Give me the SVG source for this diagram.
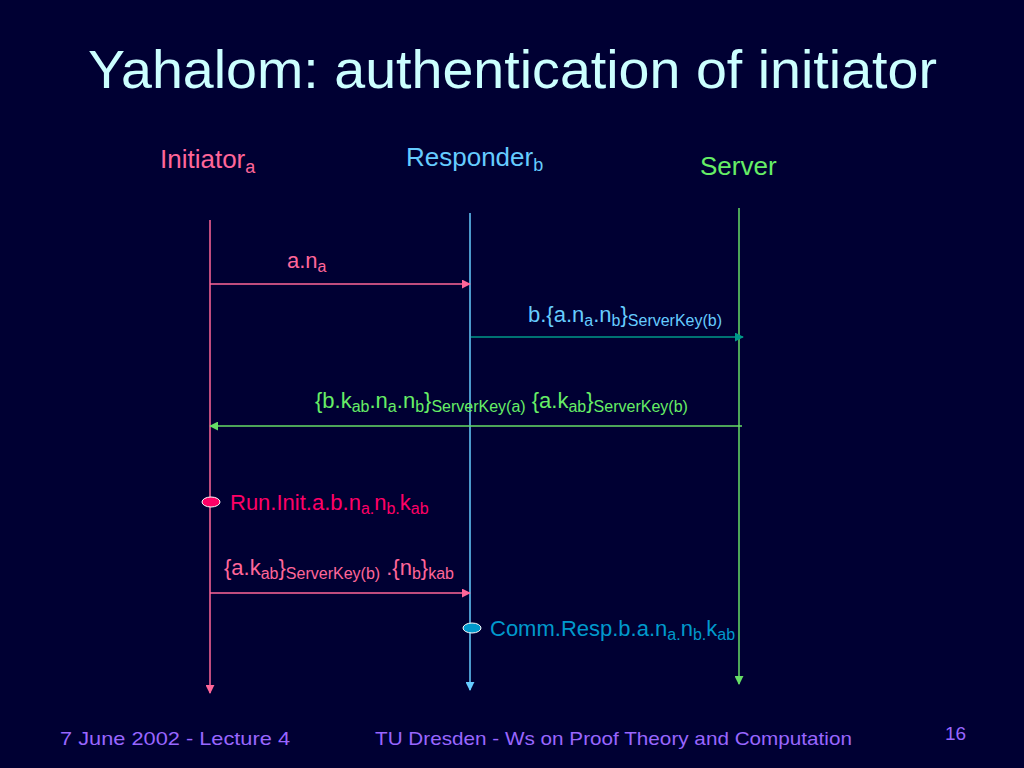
<svg xmlns="http://www.w3.org/2000/svg" width="1024" height="768" viewBox="0 0 1024 768">
<defs>
<style>
text{font-family:"Liberation Sans","DejaVu Sans",Arial,sans-serif}
.title{fill:#ccffff;font-size:54px}
.head{font-size:26px}
.lbl{font-size:22px}
.sub{font-size:16px}
.foot{fill:#9966ff;font-size:19px}
.life{stroke-width:1.5;fill:none}
.msg{stroke-width:1.5;fill:none}
</style>
<marker id="aPink" viewBox="0 0 10 10" refX="9" refY="5" markerWidth="9" markerHeight="9" orient="auto" markerUnits="userSpaceOnUse"><path d="M0,0 L10,5 L0,10 z" fill="#ff6699"/></marker>
<marker id="aBlue" viewBox="0 0 10 10" refX="9" refY="5" markerWidth="9" markerHeight="9" orient="auto" markerUnits="userSpaceOnUse"><path d="M0,0 L10,5 L0,10 z" fill="#66ccff"/></marker>
<marker id="aGreen" viewBox="0 0 10 10" refX="9" refY="5" markerWidth="9" markerHeight="9" orient="auto" markerUnits="userSpaceOnUse"><path d="M0,0 L10,5 L0,10 z" fill="#66dd66"/></marker>
<marker id="aTeal" viewBox="0 0 10 10" refX="9" refY="5" markerWidth="9" markerHeight="9" orient="auto" markerUnits="userSpaceOnUse"><path d="M0,0 L10,5 L0,10 z" fill="#009988"/></marker>
</defs>
<rect width="1024" height="768" fill="#000033"/>
<text class="title" x="88" y="88" textLength="849" lengthAdjust="spacingAndGlyphs">Yahalom: authentication of initiator</text>

<g id="initiator">
<text class="head" x="160" y="168" fill="#ff6699">Initiator<tspan dy="5" font-size="18">a</tspan></text>
</g>
<g id="responder">
<text class="head" x="406" y="166" fill="#66ccff">Responder<tspan dy="5" font-size="18">b</tspan></text>
</g>
<g id="server">
<text class="head" x="700" y="175" fill="#66ee66">Server</text>
</g>

<g id="connectors">
<line class="life" x1="210" y1="220" x2="210" y2="693" stroke="#ff6699" marker-end="url(#aPink)"/>
<line class="life" x1="470" y1="213" x2="470" y2="690" stroke="#66ccff" marker-end="url(#aBlue)"/>
<line class="life" x1="739" y1="208" x2="739" y2="684" stroke="#66dd66" marker-end="url(#aGreen)"/>
<line class="msg" x1="210" y1="284" x2="470" y2="284" stroke="#ff6699" marker-end="url(#aPink)"/>
<line class="msg" x1="471" y1="337" x2="743" y2="337" stroke="#009988" marker-end="url(#aTeal)"/>
<line class="msg" x1="742" y1="426" x2="210" y2="426" stroke="#66dd66" marker-end="url(#aGreen)"/>
<line class="msg" x1="210" y1="593" x2="470" y2="593" stroke="#ff6699" marker-end="url(#aPink)"/>
</g>

<g id="msg1">
<text class="lbl" x="287" y="268" fill="#ff6699">a.n<tspan class="sub" dy="4">a</tspan></text>
</g>
<g id="msg2">
<text class="lbl" x="528" y="322" fill="#66ccff">b.{a.n<tspan class="sub" dy="4">a</tspan><tspan dy="-4">.n</tspan><tspan class="sub" dy="4">b</tspan><tspan dy="-4">}</tspan><tspan class="sub" dy="4">ServerKey(b)</tspan></text>
</g>
<g id="msg3">
<text class="lbl" x="315" y="408" fill="#66ee66">{b.k<tspan class="sub" dy="4">ab</tspan><tspan dy="-4">.n</tspan><tspan class="sub" dy="4">a</tspan><tspan dy="-4">.n</tspan><tspan class="sub" dy="4">b</tspan><tspan dy="-4">}</tspan><tspan class="sub" dy="4">ServerKey(a)</tspan><tspan dy="-4"> {a.k</tspan><tspan class="sub" dy="4">ab</tspan><tspan dy="-4">}</tspan><tspan class="sub" dy="4">ServerKey(b)</tspan></text>
</g>
<g id="runInit">
<ellipse cx="211" cy="502" rx="9" ry="5" fill="#ff0066" stroke="#ffffff" stroke-width="1"/>
<text class="lbl" x="230" y="510" fill="#ff0066">Run.Init.a.b.n<tspan class="sub" dy="4">a.</tspan><tspan dy="-4">n</tspan><tspan class="sub" dy="4">b.</tspan><tspan dy="-4">k</tspan><tspan class="sub" dy="4">ab</tspan></text>
</g>
<g id="msg4">
<text class="lbl" x="224" y="575" fill="#ff6699">{a.k<tspan class="sub" dy="4">ab</tspan><tspan dy="-4">}</tspan><tspan class="sub" dy="4">ServerKey(b)</tspan><tspan dy="-4"> .{n</tspan><tspan class="sub" dy="4">b</tspan><tspan dy="-4">}</tspan><tspan class="sub" dy="4">kab</tspan></text>
</g>
<g id="commResp">
<ellipse cx="472" cy="628" rx="9" ry="5" fill="#0099cc" stroke="#ffffff" stroke-width="1"/>
<text class="lbl" x="490" y="636" fill="#0099cc">Comm.Resp.b.a.n<tspan class="sub" dy="4">a.</tspan><tspan dy="-4">n</tspan><tspan class="sub" dy="4">b.</tspan><tspan dy="-4">k</tspan><tspan class="sub" dy="4">ab</tspan></text>
</g>

<text class="foot" x="60" y="745" textLength="230" lengthAdjust="spacingAndGlyphs">7 June 2002 - Lecture 4</text>
<text class="foot" x="375" y="745" textLength="477" lengthAdjust="spacingAndGlyphs">TU Dresden - Ws on Proof Theory and Computation</text>
<text class="foot" x="945" y="740" font-size="17">16</text>
</svg>
